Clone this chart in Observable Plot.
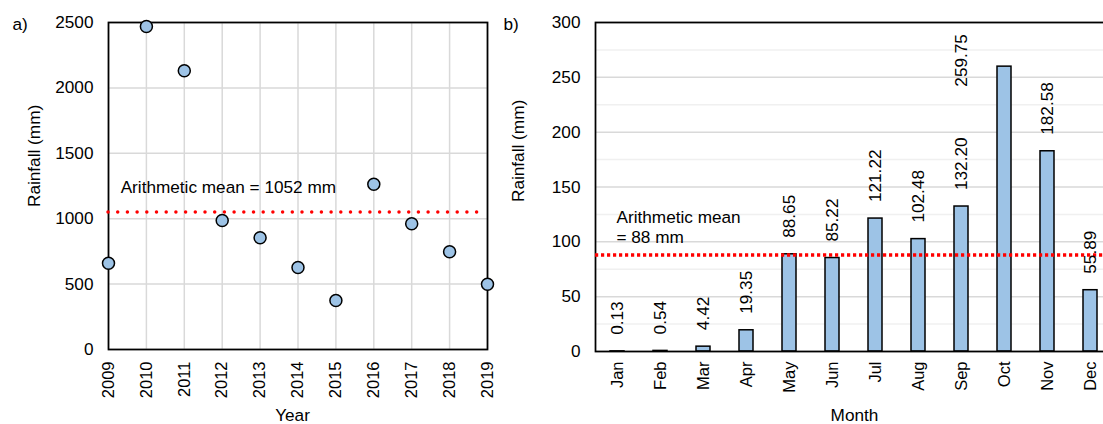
<!DOCTYPE html>
<html><head><meta charset="utf-8">
<script src="https://cdn.jsdelivr.net/npm/d3@7"></script>
<script src="https://cdn.jsdelivr.net/npm/@observablehq/plot@0.6"></script>
<style>
html,body{margin:0;padding:0;background:#fff;overflow:hidden;width:1103px;height:424px;}
#a{position:absolute;left:0;top:0;}
#b{position:absolute;left:500px;top:0;}
</style></head><body>
<div id="a"></div><div id="b"></div>
<script>
// Panel a: annual rainfall
const years = [2009, 2010, 2011, 2012, 2013, 2014, 2015, 2016, 2017, 2018, 2019];
const annualRainfall = [660, 2469, 2131, 986, 854, 627, 375, 1264, 961, 747, 499];
const rainfallTicksA = [0, 500, 1000, 1500, 2000, 2500];
const annualMean = 1052;

// Panel b: monthly rainfall
const months = ["Jan", "Feb", "Mar", "Apr", "May", "Jun", "Jul", "Aug", "Sep", "Oct", "Nov", "Dec"];
const monthlyRainfall = [0.13, 0.54, 4.42, 19.35, 88.65, 85.22, 121.22, 102.48, 132.20, 259.75, 182.58, 55.89];
const rainfallTicksB = [0, 50, 100, 150, 200, 250, 300];
const minorTicksB = [25, 75, 125, 175, 225, 275];
const monthlyMean = 88;

const font = "'Liberation Sans', Arial, Helvetica, sans-serif";
const baseStyle = {fontFamily: font, fontSize: "17.2px", color: "#000", background: "transparent", overflow: "visible", maxWidth: "none"};
const fillBlue = "#9dc3e6";

const dataA = years.map((y, i) => ({year: y, rain: annualRainfall[i]}));
const plotA = Plot.plot({
  width: 500, height: 424,
  marginLeft: 108, marginRight: 13, marginTop: 22, marginBottom: 75,
  style: baseStyle,
  x: {domain: [2009, 2019]},
  y: {domain: [0, 2500]},
  marks: [
    Plot.gridX(years, {stroke: "#d9d9d9", strokeOpacity: 1, strokeWidth: 1.5}),
    Plot.gridY(rainfallTicksA, {stroke: "#d9d9d9", strokeOpacity: 1, strokeWidth: 1.5}),
    Plot.frame({stroke: "#000", strokeWidth: 1.75}),
    Plot.axisX(years, {tickSize: 0, tickPadding: 12, tickRotate: -90, tickFormat: d => String(d), fontSize: 16.5, label: null, fill: "#000"}),
    Plot.axisY(rainfallTicksA, {tickSize: 0, tickPadding: 15, tickFormat: d => String(d), label: null, fill: "#000"}),
    Plot.ruleY([annualMean], {x1: 2009, x2: 2018.9, stroke: "#ff0000", strokeWidth: 3.5, strokeDasharray: "0 9.7", strokeLinecap: "round"}),
    Plot.dot(dataA, {x: "year", y: "rain", r: 6, fill: fillBlue, stroke: "#000", strokeWidth: 1.5}),
    Plot.text([`Arithmetic mean = ${annualMean} mm`], {x: 2009.32, y: 1240, textAnchor: "start", lineAnchor: "middle", fill: "#000"}),
    Plot.text(["a)"], {frameAnchor: "top-left", dx: -96, dy: 2, textAnchor: "start", lineAnchor: "middle", fill: "#000"}),
    Plot.text(["Rainfall (mm)"], {frameAnchor: "left", rotate: -90, dx: -74.4, dy: 21, lineAnchor: "middle", fill: "#000"}),
    Plot.text(["Year"], {frameAnchor: "bottom", dx: -5.5, dy: 65.5, lineAnchor: "middle", fill: "#000"})
  ]
});
document.getElementById("a").appendChild(plotA);

const dataB = months.map((m, i) => ({month: m, rain: monthlyRainfall[i]}));
const plotB = Plot.plot({
  width: 611, height: 424,
  marginLeft: 95, marginRight: 0, marginTop: 22, marginBottom: 73,
  style: baseStyle,
  x: {type: "band", domain: months, paddingInner: 0.68, paddingOuter: 0.34},
  y: {domain: [0, 300]},
  marks: [
    Plot.gridY(minorTicksB, {stroke: "#f0f0f0", strokeOpacity: 1, strokeWidth: 1.5}),
    Plot.gridY(rainfallTicksB, {stroke: "#d9d9d9", strokeOpacity: 1, strokeWidth: 1.5}),
    Plot.barY(dataB, {x: "month", y: "rain", fill: fillBlue, stroke: "#000", strokeWidth: 1.5}),
    Plot.frame({stroke: "#000", strokeWidth: 1.75}),
    Plot.ruleY([monthlyMean], {stroke: "#ff0000", strokeWidth: 3.5, strokeDasharray: "3.2 2.8"}),
    Plot.axisX(months, {tickSize: 0, tickPadding: 10, tickRotate: -90, fontSize: 16.5, label: null, fill: "#000"}),
    Plot.axisY(rainfallTicksB, {tickSize: 0, tickPadding: 15, tickFormat: d => String(d), label: null, fill: "#000"}),
    Plot.text(dataB.filter(d => d.month !== "Oct"), {x: "month", y: "rain", text: d => d.rain.toFixed(2), rotate: -90, textAnchor: "start", lineAnchor: "middle", dy: -16.5, fill: "#000"}),
    Plot.text(dataB.filter(d => d.month === "Oct"), {x: "month", y: "rain", text: d => d.rain.toFixed(2), rotate: -90, textAnchor: "start", lineAnchor: "middle", dx: -43, dy: 20, fill: "#000"}),
    Plot.text([`Arithmetic mean\n= ${monthlyMean} mm`], {frameAnchor: "left", y: 114, dx: 21, textAnchor: "start", lineAnchor: "middle", lineHeight: 1.2, fill: "#000"}),
    Plot.text(["b)"], {frameAnchor: "top-left", dx: -92, dy: 2, textAnchor: "start", lineAnchor: "middle", fill: "#000"}),
    Plot.text(["Rainfall (mm)"], {frameAnchor: "left", rotate: -90, dx: -77.4, dy: 15, lineAnchor: "middle", fill: "#000"}),
    Plot.text(["Month"], {frameAnchor: "bottom", dx: 1, dy: 63.5, lineAnchor: "middle", fill: "#000"})
  ]
});
document.getElementById("b").appendChild(plotB);
</script>
</body></html>
